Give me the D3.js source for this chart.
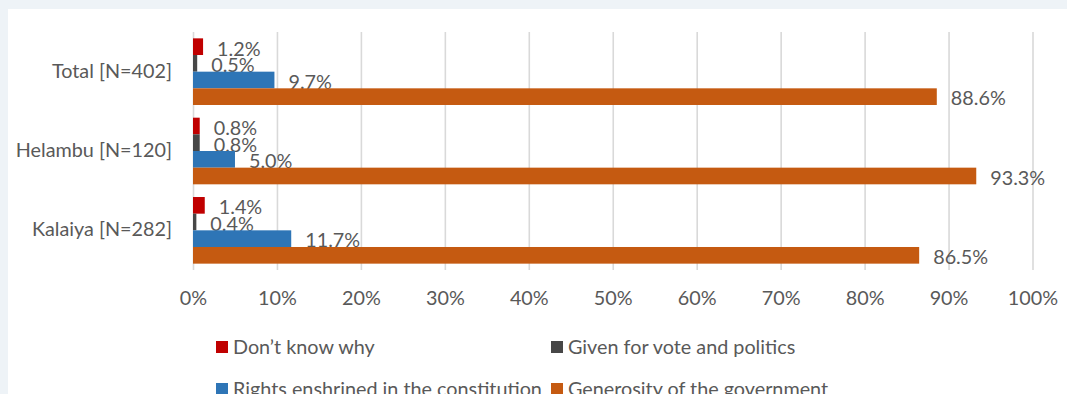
<!DOCTYPE html>
<html>
<head>
<meta charset="utf-8">
<script src="https://cdn.jsdelivr.net/npm/d3@7"></script>
<style>
  html, body { margin: 0; padding: 0; background: #eef3f7; }
  svg { display: block; }
  text { font-family: Lato, "Open Sans", sans-serif; fill: #595959; }
</style>
</head>
<body>
<svg id="chart" width="1067" height="394"></svg>
<script>
// Reasons given for receiving the allowance, by district (percent of respondents)
const categories = ["Total [N=402]", "Helambu [N=120]", "Kalaiya [N=282]"];
const seriesNames = [
  "Don\u2019t know why",
  "Given for vote and politics",
  "Rights enshrined in the constitution",
  "Generosity of the government"
];
const dontKnow    = [1.2, 0.8, 1.4];
const votePolitic = [0.5, 0.8, 0.4];
const rights      = [9.7, 5.0, 11.7];
const generosity  = [88.6, 93.3, 86.5];
const xTicks = [0, 10, 20, 30, 40, 50, 60, 70, 80, 90, 100];
const colors = ["#c00000", "#474747", "#2e75b6", "#c55a11"];

const seriesValues = [dontKnow, votePolitic, rights, generosity];
const fontSize = "19.8px";

const svg = d3.select("#chart");

// white chart panel
svg.append("rect")
  .attr("x", 8).attr("y", 9)
  .attr("width", 1067).attr("height", 400)
  .attr("fill", "#ffffff");

const x = d3.scaleLinear().domain([0, 100]).range([193, 1032.5]);
const y = d3.scaleBand().domain(categories).range([32, 270])
  .paddingInner(0.16).paddingOuter(0.08);
const ySub = d3.scaleBand().domain(d3.range(seriesNames.length))
  .range([0, y.bandwidth()]);

// vertical gridlines
const grid = svg.append("g")
  .attr("transform", "translate(0,270)")
  .call(d3.axisBottom(x).tickValues(xTicks).tickSize(-238).tickFormat(""));
grid.select(".domain").remove();
grid.selectAll(".tick line").attr("stroke", "#d9d9d9").attr("stroke-width", 1.6);

// x tick labels
const xAxis = svg.append("g")
  .attr("transform", "translate(0,298)")
  .call(d3.axisBottom(x).tickValues(xTicks).tickSize(0).tickPadding(0)
    .tickFormat(d => d + "%"));
xAxis.select(".domain").remove();
xAxis.selectAll("text")
  .attr("dy", "0.35em").attr("y", 0)
  .style("font-size", fontSize).attr("fill", "#595959");

// category labels
const yAxis = svg.append("g")
  .attr("transform", "translate(172,0)")
  .call(d3.axisLeft(y).tickSize(0).tickPadding(0));
yAxis.select(".domain").remove();
yAxis.selectAll("text")
  .attr("dy", "0.3em")
  .style("font-size", fontSize).attr("fill", "#595959");

// bars and value labels, series by series so later bars sit above earlier labels
seriesValues.forEach((vals, si) => {
  const g = svg.append("g");
  g.selectAll("rect").data(vals).join("rect")
    .attr("x", x(0))
    .attr("y", (d, i) => y(categories[i]) + ySub(si))
    .attr("width", d => x(d) - x(0))
    .attr("height", ySub.bandwidth())
    .attr("fill", colors[si]);
  g.selectAll("text").data(vals).join("text")
    .attr("x", d => x(d) + 14)
    .attr("y", (d, i) => y(categories[i]) + ySub(si) + ySub.bandwidth() + 0.5)
    .style("font-size", fontSize)
    .text(d => d.toFixed(1) + "%");
});

// legend
const legendPos = [[216, 347], [551, 347], [216, 389], [551, 389]];
const legend = svg.append("g");
seriesNames.forEach((name, i) => {
  const [lx, ly] = legendPos[i];
  legend.append("rect")
    .attr("x", lx).attr("y", ly - 6)
    .attr("width", 12).attr("height", 12)
    .attr("fill", colors[i]);
  legend.append("text")
    .attr("x", lx + 17).attr("y", ly)
    .attr("dy", "0.35em")
    .style("font-size", fontSize)
    .text(name);
});
</script>
</body>
</html>
